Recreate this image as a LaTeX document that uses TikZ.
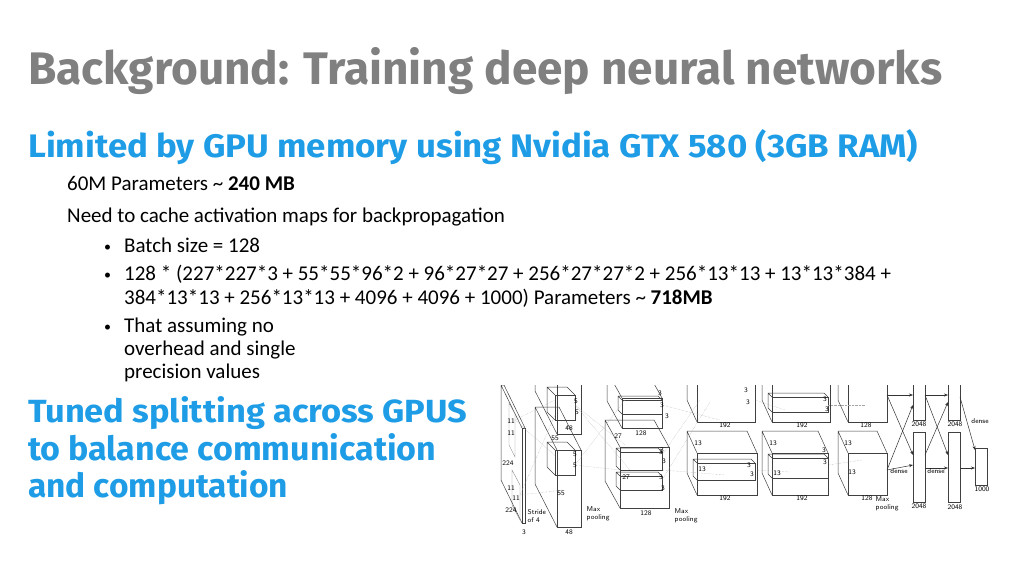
\documentclass[tikz,border=0pt]{standalone}
\usepackage{fontspec}
\setmainfont{Carlito}
\newfontfamily\headfont{Fira Sans}
\usetikzlibrary{arrows.meta}
\definecolor{titlegray}{RGB}{128,128,128}
\definecolor{headblue}{RGB}{30,157,230}
\newcommand{\cuboid}[6]{% x1 y1 x2 y2 dx dy : front face and depth offset
  \draw[boxline] (#1,#2) rectangle (#3,#4);
  \draw[boxline] (#1,#4) -- ++(#5,#6) -- ++(0,#2-#4) -- ++(#3-#1,0) -- (#3,#2)
    (#1+#5,#2+#6) -- (#1,#2);}
\begin{document}
\begin{tikzpicture}[x=1pt,y=-1pt,
  headline/.style={anchor=base west,inner sep=0pt,font=\headfont\bfseries},
  bodyline/.style={anchor=base west,inner sep=0pt,font=\fontsize{21}{23}\selectfont},
  boxline/.style={draw=black!75,line width=0.5pt},
  thinbox/.style={draw=black!45,line width=0.4pt},
  dotline/.style={draw=black!35,densely dotted,line width=0.4pt},
  lbl/.style={font=\fontsize{7}{7.5}\sffamily,inner sep=0.5pt},
  arr/.style={-{Stealth[length=4pt]},black!80,line width=0.5pt}
]
\useasboundingbox (0,0) rectangle (1024,576);
% slide text
\node[headline,text=titlegray] (title) at (28,84)
  {\resizebox{914pt}{37pt}{Background: Training deep neural networks}};
\node[headline,text=headblue] (limited) at (28,157)
  {\resizebox{890pt}{28pt}{Limited by GPU memory using Nvidia GTX 580 (3GB RAM)}};
\node[bodyline] (params) at (67,190) {60M Parameters \textasciitilde{} \textbf{240 MB}};
\node[bodyline] (cache) at (67,222) {Need to cache activation maps for backpropagation};
\foreach \Y/\T in {252/{Batch size = 128},
  280/{128 * (227*227*3 + 55*55*96*2 + 96*27*27 + 256*27*27*2 + 256*13*13 + 13*13*384 +},
  332/{That assuming no}}
  {\node[bodyline,font=\fontsize{14}{14}\selectfont] at (104,\Y-1) {\textbullet};
   \node[bodyline] at (124,\Y) {\T};}
\node[bodyline] (sum) at (124,304) {384*13*13 + 256*13*13 + 4096 + 4096 + 1000) Parameters \textasciitilde{} \textbf{718MB}};
\node[bodyline] (overhead) at (124,355) {overhead and single};
\node[bodyline] (precision) at (124,378) {precision values};
\node[headline,text=headblue] (tuned) at (28,422)
  {\resizebox{439pt}{26pt}{Tuned splitting across GPUS}};
\node[headline,text=headblue] (balance) at (28,460)
  {\resizebox{408pt}{27pt}{to balance communication}};
\node[headline,text=headblue] (comp) at (28,497)
  {\resizebox{260pt}{27pt}{and computation}};
% network figure
\begin{scope}
\clip (495,385) rectangle (1010,540);
% input
\cuboid{522}{428}{525}{523}{-21}{-43}
\draw[thinbox] (509,403) -- (509,445) -- (515,457) -- (515,414) -- cycle;
\draw[thinbox] (512,470) -- (512,505) -- (520,520) -- (520,485) -- cycle;
% conv1
\cuboid{557}{450}{581}{527}{-22}{-43}
\cuboid{557}{380}{581}{434}{-22}{-43}
\cuboid{555}{395}{575}{420}{-8}{-8}
\cuboid{555}{450}{575}{475}{-8}{-8}
% conv2
\cuboid{620}{447}{669}{508}{-15}{-27}
\cuboid{622}{398}{662}{428}{-15}{-27}
\cuboid{620}{452}{662}{470}{-4}{-4}
\cuboid{620}{476}{662}{490}{-4}{-4}
\cuboid{622}{400}{662}{414}{-4}{-4}
% conv3
\cuboid{697}{453}{757}{495}{-10}{-22}
\cuboid{697}{380}{755}{422}{-10}{-22}
\cuboid{697}{463}{755}{480}{-4}{-4}
% conv4
\cuboid{772}{453}{828}{495}{-10}{-22}
\cuboid{772}{380}{830}{422}{-10}{-22}
\cuboid{772}{458}{828}{478}{-4}{-4}
\cuboid{772}{397}{828}{412}{-4}{-4}
% conv5
\cuboid{848}{453}{887}{495}{-10}{-22}
\cuboid{848}{380}{887}{422}{-10}{-22}
% dense layers
\foreach \X in {913,948} {
  \draw[boxline] (\X,380) rectangle (\X+12,420);
  \draw[boxline] (\X,432) rectangle (\X+12,502);}
\draw[boxline] (975,448) rectangle (987,485);
% receptive field lines
\foreach \A/\B in {{515,420}/{555,400},{515,420}/{560,460},{520,495}/{555,415},{520,495}/{563,490},
  {575,405}/{625,445},{575,465}/{625,400},{575,465}/{620,470},{575,405}/{630,470},
  {662,405}/{720,420},{662,455}/{700,400},{662,470}/{725,475},{662,480}/{710,402},
  {755,400}/{785,410},{757,470}/{790,472},{828,405}/{865,405},{828,465}/{862,460}}
  \draw[dotline] (\A) -- (\B);
\draw[arr] (887,395) -- (913,395);
\draw[arr] (887,395) -- (913,455);
\draw[arr] (887,470) -- (913,405);
\draw[arr] (887,470) -- (913,465);
\draw[arr] (925,395) -- (948,395);
\draw[arr] (925,395) -- (948,455);
\draw[arr] (925,455) -- (948,402);
\draw[arr] (925,468) -- (948,468);
\draw[arr] (960,397) -- (975,450);
\draw[arr] (960,468) -- (975,468);
\end{scope}
% figure labels
\foreach \P/\T in {{511,421}/11,{511,433}/11,{508,463}/224,{511,488}/11,{516,498}/11,{511,510}/224,
  {524,532}/3,{576,401}/5,{577,412}/5,{569,428}/48,{555,438}/55,{575,454}/5,{575,465}/5,
  {561,493}/55,{569,532}/48,{660,393}/3,{662,405}/3,{667,416}/3,{641,433}/128,{618,436}/27,
  {662,450}/3,{664,461}/3,{626,477}/27,{661,477}/3,{663,488}/3,{646,513}/128,
  {746,390}/3,{748,402}/3,{725,425}/192,{698,443}/13,{661,452}/3,{749,465}/3,{752,474}/3,
  {702,469}/13,{725,498}/192,{825,399}/3,{827,409}/3,{802,425}/192,{773,443}/13,
  {824,450}/3,{825,462}/3,{777,473}/13,{802,498}/192,{866,425}/128,{848,443}/13,{852,472}/13,
  {867,498}/128,{919,424}/2048,{955,424}/2048,{919,506}/2048,{955,507}/2048,{982,489}/1000}
  \node[lbl] at (\P) {\T};
\node[lbl,align=left,anchor=north west] at (527,509) {Stride\\of 4};
\node[lbl,align=left,anchor=north west] at (586,506) {Max\\pooling};
\node[lbl,align=left,anchor=north west] at (674,508) {Max\\pooling};
\node[lbl,align=left,anchor=north west] at (875,496) {Max\\pooling};
\foreach \P in {{980,421},{899,471},{936,471}} \node[lbl] at (\P) {dense};
\end{tikzpicture}
\end{document}
